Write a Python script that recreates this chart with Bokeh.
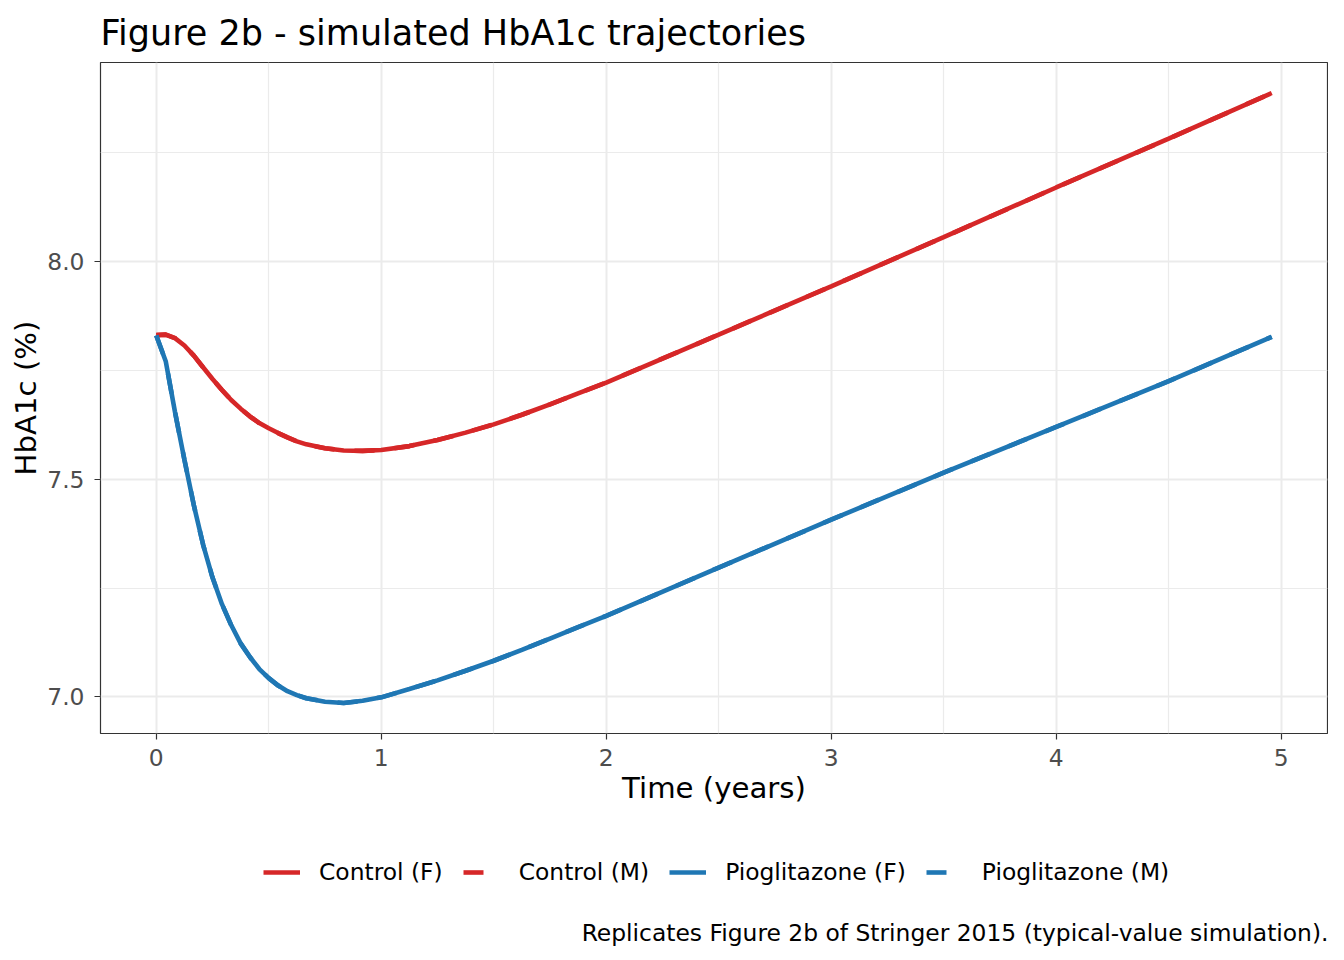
from bokeh.plotting import figure
from bokeh.layouts import column
from bokeh.models import (Range1d, FixedTicker, Legend, LegendItem, Label,
                          PrintfTickFormatter)
from bokeh.embed import file_html
from bokeh.resources import INLINE

# ---- data ----
time_years = [0, 0.042, 0.083, 0.125, 0.167, 0.208, 0.25, 0.292, 0.333, 0.375, 0.417,
              0.458, 0.5, 0.542, 0.583, 0.625, 0.667, 0.75, 0.833, 0.917, 1.0, 1.125,
              1.25, 1.375, 1.5, 1.625, 1.75, 1.875, 2.0, 2.5, 3.0, 3.5, 4.0, 4.5, 4.958]
control_f = [7.831, 7.832, 7.824, 7.807, 7.784, 7.757, 7.730, 7.705, 7.682, 7.662, 7.644,
             7.629, 7.617, 7.606, 7.596, 7.587, 7.580, 7.571, 7.566, 7.565, 7.567, 7.576,
             7.590, 7.607, 7.626, 7.648, 7.672, 7.697, 7.722, 7.832, 7.943, 8.056, 8.170,
             8.282, 8.387]
control_m = list(control_f)
pioglitazone_f = [7.830, 7.771, 7.655, 7.545, 7.440, 7.350, 7.274, 7.213, 7.165, 7.123, 7.091,
                  7.064, 7.043, 7.026, 7.013, 7.004, 6.997, 6.989, 6.986, 6.991, 6.999, 7.018,
                  7.038, 7.060, 7.083, 7.108, 7.134, 7.160, 7.186, 7.297, 7.407, 7.515, 7.620,
                  7.725, 7.827]
pioglitazone_m = list(pioglitazone_f)

series_labels = ["Control (F)", "Control (M)", "Pioglitazone (F)", "Pioglitazone (M)"]
x_ticks = [0, 1, 2, 3, 4, 5]
x_minor = [0.5, 1.5, 2.5, 3.5, 4.5]
y_ticks = [7.0, 7.5, 8.0]
y_minor = [7.25, 7.75, 8.25]
caption_text = "Replicates Figure 2b of Stringer 2015 (typical-value simulation)."

RED = "#D62728"
BLUE = "#1F77B4"
FONT = "DejaVu Sans"
SMALL = "23.4px"
LW = 4.6

# ggplot-like 5% expansion
all_y = control_f + pioglitazone_f
xmin, xmax = min(time_years), max(time_years)
ymin, ymax = min(all_y), max(all_y)
xpad = 0.05 * (xmax - xmin)
ypad = 0.05 * (ymax - ymin)

FRAME_W = 1227
BOT_H = 142

p = figure(frame_width=FRAME_W, frame_height=671, output_backend="svg", toolbar_location=None,
           x_range=Range1d(xmin - xpad, xmax + xpad),
           y_range=Range1d(ymin - ypad, ymax + ypad),
           min_border_left=100, min_border_right=1, min_border_top=62, min_border_bottom=85)

p.background_fill_color = "white"
p.border_fill_color = "white"
p.outline_line_color = "#333333"
p.outline_line_width = 1.2

# title
p.title.text = "Figure 2b - simulated HbA1c trajectories"
p.title.text_font = FONT
p.title.text_font_size = "35px"
p.title.text_font_style = "normal"
p.title.text_color = "black"
p.title.align = "left"
p.title.standoff = 20

# axes
for ax in (p.xaxis[0], p.yaxis[0]):
    ax.axis_line_color = None
    ax.major_tick_line_color = "#333333"
    ax.major_tick_line_width = 1.2
    ax.major_tick_out = 6
    ax.major_tick_in = 0
    ax.minor_tick_line_color = None
    ax.major_label_text_font = FONT
    ax.major_label_text_font_size = SMALL
    ax.major_label_text_color = "#4D4D4D"
    ax.axis_label_text_font = FONT
    ax.axis_label_text_font_size = "29.2px"
    ax.axis_label_text_font_style = "normal"
    ax.axis_label_text_color = "black"

p.xaxis[0].ticker = FixedTicker(ticks=x_ticks, minor_ticks=x_minor)
p.yaxis[0].ticker = FixedTicker(ticks=y_ticks, minor_ticks=y_minor)
p.yaxis[0].formatter = PrintfTickFormatter(format="%.1f")
p.xaxis[0].formatter = PrintfTickFormatter(format="%d")
p.xaxis.axis_label = "Time (years)"
p.yaxis.axis_label = "HbA1c (%)"
p.xaxis[0].major_label_standoff = 9
p.yaxis[0].major_label_standoff = 10
p.xaxis[0].axis_label_standoff = 2
p.yaxis[0].axis_label_standoff = 1

# grid
for g in (p.xgrid[0], p.ygrid[0]):
    g.grid_line_color = "#EBEBEB"
    g.grid_line_width = 2
    g.minor_grid_line_color = "#EBEBEB"
    g.minor_grid_line_width = 1.2

# lines
p.line(time_years, control_f, line_color=RED, line_width=LW)
p.line(time_years, control_m, line_color=RED, line_width=LW, line_dash="20 20")
p.line(time_years, pioglitazone_f, line_color=BLUE, line_width=LW)
p.line(time_years, pioglitazone_m, line_color=BLUE, line_width=LW, line_dash="20 20")

# ---- bottom strip: legend + caption ----
b = figure(frame_width=FRAME_W, height=BOT_H, output_backend="svg", toolbar_location=None,
           x_range=Range1d(xmin - xpad, xmax + xpad), y_range=Range1d(0, 1),
           x_axis_type=None, y_axis_type=None,
           min_border_left=100, min_border_right=1, min_border_top=0, min_border_bottom=0)
b.outline_line_color = None
b.grid.visible = False
b.background_fill_color = "white"
b.border_fill_color = "white"

# single-point key renderers (draw nothing in the strip, only feed the legend keys)
k_cf = b.line(time_years[:1], control_f[:1], line_color=RED, line_width=LW)
k_cm = b.line(time_years[:1], control_m[:1], line_color=RED, line_width=LW, line_dash="20 20")
k_pf = b.line(time_years[:1], pioglitazone_f[:1], line_color=BLUE, line_width=LW)
k_pm = b.line(time_years[:1], pioglitazone_m[:1], line_color=BLUE, line_width=LW, line_dash="20 20")

legend = Legend(items=[LegendItem(label=series_labels[0], renderers=[k_cf]),
                       LegendItem(label=series_labels[1], renderers=[k_cm]),
                       LegendItem(label=series_labels[2], renderers=[k_pf]),
                       LegendItem(label=series_labels[3], renderers=[k_pm])],
                orientation="horizontal", location=(163, 74),
                glyph_width=37, glyph_height=28, label_height=28,
                label_standoff=19, spacing=20,
                label_text_font=FONT, label_text_font_size=SMALL,
                label_text_color="black", label_text_baseline="middle",
                border_line_color=None, background_fill_alpha=0,
                padding=0, margin=0)
b.add_layout(legend)

caption = Label(x=FRAME_W + 1, y=28, x_units="screen", y_units="screen",
                text=caption_text, text_align="right",
                text_baseline="middle", text_font=FONT, text_font_size=SMALL,
                text_color="black")
b.add_layout(caption)

layout = column(p, b, spacing=0)
open("out.html", "w").write(file_html(layout, INLINE))
